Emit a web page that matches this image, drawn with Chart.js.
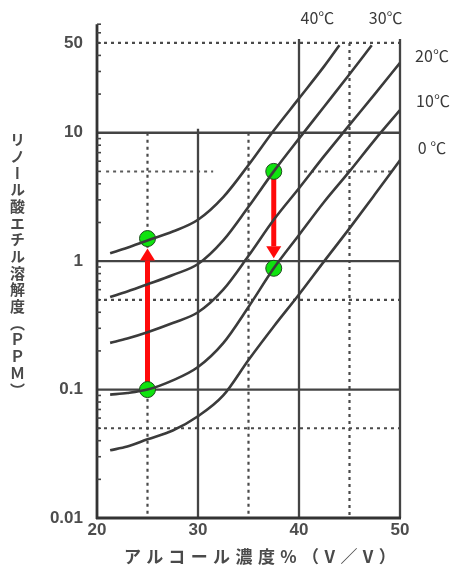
<!DOCTYPE html>
<html>
<head>
<meta charset="utf-8">
<title>リノール酸エチル溶解度</title>
<script src="https://cdn.jsdelivr.net/npm/chart.js@4.4.1/dist/chart.umd.min.js"></script>
<style>
  html, body { margin: 0; padding: 0; background: #fff; }
  #wrap { position: relative; width: 457px; height: 576px; overflow: hidden; }
  #c { position: absolute; left: 0; top: 0; }
  #ytitle {
    position: absolute; left: 10px; top: 132px;
    writing-mode: vertical-rl; text-orientation: upright;
    font-family: "Noto Sans CJK JP", sans-serif; font-size: 15px; font-weight: bold;
    letter-spacing: 1.7px; color: #4a4a4a; line-height: 1;
  }
  #xtitle {
    position: absolute; left: 124px; top: 547px;
    font-family: "Noto Sans CJK JP", sans-serif; font-size: 17px; font-weight: bold;
    letter-spacing: 5.4px; color: #4a4a4a; white-space: nowrap; line-height: 1;
  }
</style>
</head>
<body>
<div id="wrap">
  <canvas id="c" width="457" height="576"></canvas>
  <div id="ytitle">リノール酸エチル溶解度（ＰＰＭ）</div>
  <div id="xtitle">アルコール濃度%（V／V）</div>
</div>
<script>
// Solubility of ethyl linoleate (ppm) vs. alcohol concentration (% v/v), per temperature
const tempLabels = ['40℃', '30℃', '20℃', '10℃', '0 ℃'];

const conc40 = [21.3, 23, 25, 27.5, 30, 32.5, 35, 37.5, 40, 42.5, 44.0];
const sol40  = [1.15, 1.27, 1.45, 1.7, 2.1, 3.15, 5.6, 10.4, 18.5, 33, 48];

const conc30 = [21.3, 23, 25, 27.5, 30, 32.5, 35, 37.5, 40, 42.5, 45, 47.2];
const sol30  = [0.525, 0.58, 0.66, 0.78, 0.95, 1.45, 2.65, 5.0, 9.0, 16, 28.5, 48];

const conc20 = [21.3, 23, 25, 27.5, 30, 32.5, 35, 37.5, 40, 42.5, 45, 47.5, 50];
const sol20  = [0.231, 0.25, 0.28, 0.33, 0.40, 0.6, 1.1, 2.1, 3.7, 6.6, 11.5, 20, 35];

const conc10 = [21.3, 23, 25, 27.5, 30, 32.5, 35, 37.5, 40, 42.5, 45, 47.5, 50];
const sol10  = [0.0914, 0.094, 0.1, 0.118, 0.15, 0.23, 0.44, 0.88, 1.6, 2.9, 5.0, 8.8, 15];

const conc0  = [21.3, 23, 25, 27.5, 30, 32.5, 35, 37.5, 40, 42.5, 45, 47.5, 50];
const sol0   = [0.0337, 0.036, 0.041, 0.048, 0.062, 0.09, 0.17, 0.31, 0.55, 1.0, 1.8, 3.3, 6.1];

// highlighted states: start -> end pairs joined by arrows
const markerConc = [25, 25, 37.5, 37.5];
const markerSol  = [0.1, 1.5, 5.0, 0.88];
const arrowFrom  = [0, 2];
const arrowTo    = [1, 3];

// axis ticks
const xTicks = [20, 30, 40, 50];
const yTicks = [0.01, 0.1, 1, 10, 50];

const toPoints = (xs, ys) => xs.map((v, i) => ({ x: v, y: ys[i] }));
const curveSets = [
  [conc40, sol40], [conc30, sol30], [conc20, sol20], [conc10, sol10], [conc0, sol0]
];

const INK = '#3b3b3b';

const curveDatasets = curveSets.map((pair, i) => ({
  label: tempLabels[i],
  type: 'line',
  data: toPoints(pair[0], pair[1]),
  borderColor: INK,
  borderWidth: 2.6,
  pointRadius: 0,
  fill: false,
  cubicInterpolationMode: 'monotone'
}));

const MARKER_INDEX = curveDatasets.length;
const markerDataset = {
  label: 'markers',
  type: 'scatter',
  data: toPoints(markerConc, markerSol),
  pointRadius: 8,
  pointHoverRadius: 8,
  backgroundColor: '#0fe30f',
  borderColor: '#1f4a1f',
  borderWidth: 1
};

// log-scale minor steps for the little marks on the left axis
const minorSteps = [2, 3, 4, 5, 6, 7, 8, 9];

const paperGrid = {
  id: 'paperGrid',
  beforeDatasetsDraw(chart) {
    const { ctx, chartArea: a, scales: { x, y } } = chart;
    const seg = (x1, y1, x2, y2, w, color, dash) => {
      ctx.beginPath();
      ctx.lineWidth = w;
      ctx.strokeStyle = color;
      ctx.setLineDash(dash || []);
      ctx.moveTo(x1, y1);
      ctx.lineTo(x2, y2);
      ctx.stroke();
    };
    ctx.save();
    ctx.lineCap = 'butt';
    const dots = [3, 4];

    // dotted horizontal guides
    [50, 0.5, 0.05].forEach(v => {
      const py = y.getPixelForValue(v);
      seg(a.left, py, a.right, py, 2.2, '#4a4a4a', dots);
    });
    [[20.9, 31.5], [40.5, 49.2]].forEach(r => {
      const py = y.getPixelForValue(5);
      seg(x.getPixelForValue(r[0]), py, x.getPixelForValue(r[1]), py, 2, '#5a5a5a', dots);
    });
    // dotted vertical guides
    [[25, 10], [35, 10], [45, 50]].forEach(g => {
      const px = x.getPixelForValue(g[0]);
      seg(px, y.getPixelForValue(g[1]), px, a.bottom, 2.2, '#4a4a4a', dots);
    });
    // solid horizontal rules
    [10, 1, 0.1].forEach(v => {
      const py = y.getPixelForValue(v);
      seg(a.left, py, a.right, py, 2.3, '#444', null);
    });
    // solid vertical rules
    [[30, 10], [40, 50], [50, 50]].forEach(g => {
      const px = x.getPixelForValue(g[0]);
      seg(px, y.getPixelForValue(g[1]) - 4, px, a.bottom, 2.3, '#444', null);
    });
    // axes
    seg(a.left, a.top, a.left, a.bottom + 1, 2.8, '#333', null);
    seg(a.left - 1, a.bottom, a.right + 1, a.bottom, 2.8, '#333', null);

    // minor marks on the left axis
    for (let d = 0.01; d < 100; d *= 10) {
      minorSteps.forEach(m => {
        const v = d * m;
        if (v > y.max) return;
        const py = y.getPixelForValue(v);
        seg(a.left, py, a.left + 4, py, 1.6, '#444', null);
      });
    }
    ctx.restore();
  },
  beforeDatasetDraw(chart, args) {
    if (args.index !== MARKER_INDEX) return;
    const { ctx, scales: { x, y } } = chart;
    ctx.save();
    arrowFrom.forEach((fi, k) => {
      const ti = arrowTo[k];
      const px = x.getPixelForValue(markerConc[fi]);
      const y0 = y.getPixelForValue(markerSol[fi]);
      const y1 = y.getPixelForValue(markerSol[ti]);
      const dir = Math.sign(y1 - y0);
      const tip = y1 - dir * 10;
      const base = tip - dir * 12;
      ctx.strokeStyle = '#ff0a0a';
      ctx.fillStyle = '#ff0a0a';
      ctx.lineWidth = 5;
      ctx.setLineDash([]);
      ctx.beginPath();
      ctx.moveTo(px, y0);
      ctx.lineTo(px, base);
      ctx.stroke();
      ctx.beginPath();
      ctx.moveTo(px, tip);
      ctx.lineTo(px - 7.5, base);
      ctx.lineTo(px + 7.5, base);
      ctx.closePath();
      ctx.fill();
    });
    ctx.restore();
  },
  afterDatasetsDraw(chart) {
    // temperature captions next to the end of each curve
    const { ctx, scales: { x, y } } = chart;
    const offsets = [[-22, -27], [14, -27], [32, -7], [33, -9], [32, -12]];
    ctx.save();
    ctx.fillStyle = '#3a3a3a';
    ctx.font = '16px "Noto Sans CJK JP", sans-serif';
    ctx.textAlign = 'center';
    ctx.textBaseline = 'middle';
    curveSets.forEach((pair, i) => {
      const n = pair[0].length - 1;
      const px = x.getPixelForValue(pair[0][n]);
      const py = y.getPixelForValue(pair[1][n]);
      ctx.fillText(tempLabels[i], px + offsets[i][0], py + offsets[i][1]);
    });
    ctx.restore();
  }
};

const tickFont = { family: '"Liberation Sans", Arial, sans-serif', size: 17, weight: 'bold' };

new Chart(document.getElementById('c'), {
  data: { datasets: [...curveDatasets, markerDataset] },
  options: {
    responsive: false,
    animation: false,
    layout: { padding: { top: 23, right: 57, left: 0, bottom: 0 } },
    plugins: { legend: { display: false }, tooltip: { enabled: false } },
    scales: {
      x: {
        type: 'linear',
        min: 20, max: 50,
        grid: { display: false, drawTicks: false },
        border: { display: false },
        afterBuildTicks: s => { s.ticks = xTicks.map(v => ({ value: v })); },
        afterFit: s => { s.height = 58; },
        ticks: { padding: 2, color: '#4d4d4d', font: tickFont, maxRotation: 0 }
      },
      y: {
        type: 'logarithmic',
        min: 0.01, max: 70,
        grid: { display: false, drawTicks: false },
        border: { display: false },
        afterBuildTicks: s => { s.ticks = yTicks.map(v => ({ value: v })); },
        afterFit: s => { s.width = 97; },
        ticks: { padding: 14, color: '#4d4d4d', font: tickFont, callback: v => String(v) }
      }
    }
  },
  plugins: [paperGrid]
});
</script>
</body>
</html>
